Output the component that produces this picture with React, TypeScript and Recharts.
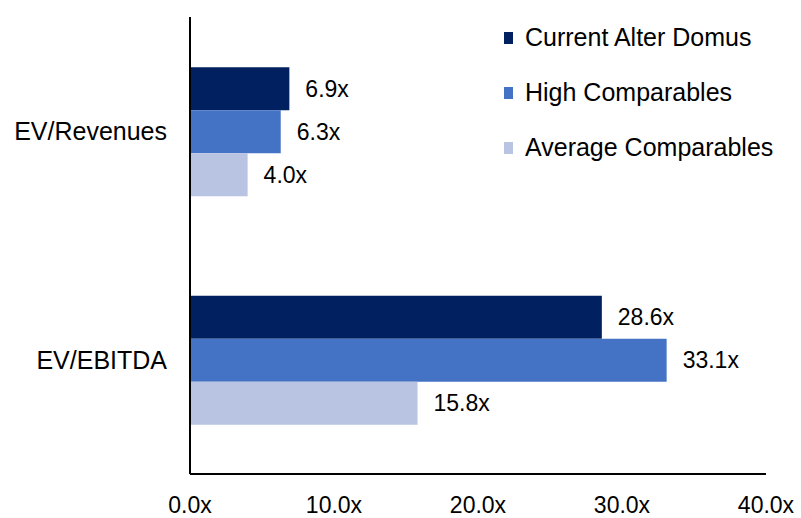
import { Bar, BarChart, LabelList, XAxis, YAxis } from "recharts";

const categories = ["EV/Revenues", "EV/EBITDA"];
const currentAlterDomus = [6.9, 28.6];
const highComparables = [6.3, 33.1];
const averageComparables = [4.0, 15.8];
const xTicks = [0, 10, 20, 30, 40];

const SERIES = [
  { key: "current", name: "Current Alter Domus", color: "#002060" },
  { key: "high", name: "High Comparables", color: "#4472C4" },
  { key: "average", name: "Average Comparables", color: "#B9C3E2" },
];

const data = categories.map((name, i) => ({
  name,
  current: currentAlterDomus[i],
  high: highComparables[i],
  average: averageComparables[i],
}));

const FONT = "'Liberation Sans', Arial, sans-serif";
const fmt = (v: number) => `${Number(v).toFixed(1)}x`;

// legend sits in the empty top-right corner of the plot
const LegendBox = () => (
  <div
    style={{
      position: "absolute",
      left: 504,
      top: 10,
      fontFamily: FONT,
      fontSize: 25,
      color: "#000",
      whiteSpace: "nowrap",
    }}
  >
    {SERIES.map((s) => (
      <div
        key={s.key}
        style={{ height: 55, display: "flex", alignItems: "center" }}
      >
        <span
          style={{
            width: 9,
            height: 12,
            background: s.color,
            marginRight: 12,
            display: "inline-block",
          }}
        />
        <span>{s.name}</span>
      </div>
    ))}
  </div>
);

export default function App() {
  return (
    <div
      style={{
        position: "absolute",
        left: 0,
        top: 0,
        width: 801,
        height: 518,
        background: "#fff",
      }}
    >
      <BarChart
        width={801}
        height={518}
        data={data}
        layout="vertical"
        margin={{ top: 17, right: 35, bottom: 0, left: 0 }}
        barCategoryGap="22%"
        barGap={0}
      >
        <XAxis
          type="number"
          domain={[0, 40]}
          ticks={xTicks}
          tickFormatter={fmt}
          axisLine={{ stroke: "#000", strokeWidth: 2 }}
          tickLine={false}
          tickSize={0}
          tickMargin={23}
          tick={{ fill: "#000", fontSize: 23, fontFamily: FONT }}
          height={44}
        />
        <YAxis
          type="category"
          dataKey="name"
          width={190}
          axisLine={{ stroke: "#000", strokeWidth: 2 }}
          tickLine={false}
          tickSize={0}
          tickMargin={23}
          tick={{ fill: "#000", fontSize: 25, fontFamily: FONT }}
        />
        {SERIES.map((s) => (
          <Bar
            key={s.key}
            dataKey={s.key}
            name={s.name}
            fill={s.color}
            isAnimationActive={false}
          >
            <LabelList
              dataKey={s.key}
              position="right"
              offset={16}
              formatter={fmt}
              fill="#000"
              fontSize={23}
              fontFamily={FONT}
            />
          </Bar>
        ))}
      </BarChart>
      <LegendBox />
    </div>
  );
}
